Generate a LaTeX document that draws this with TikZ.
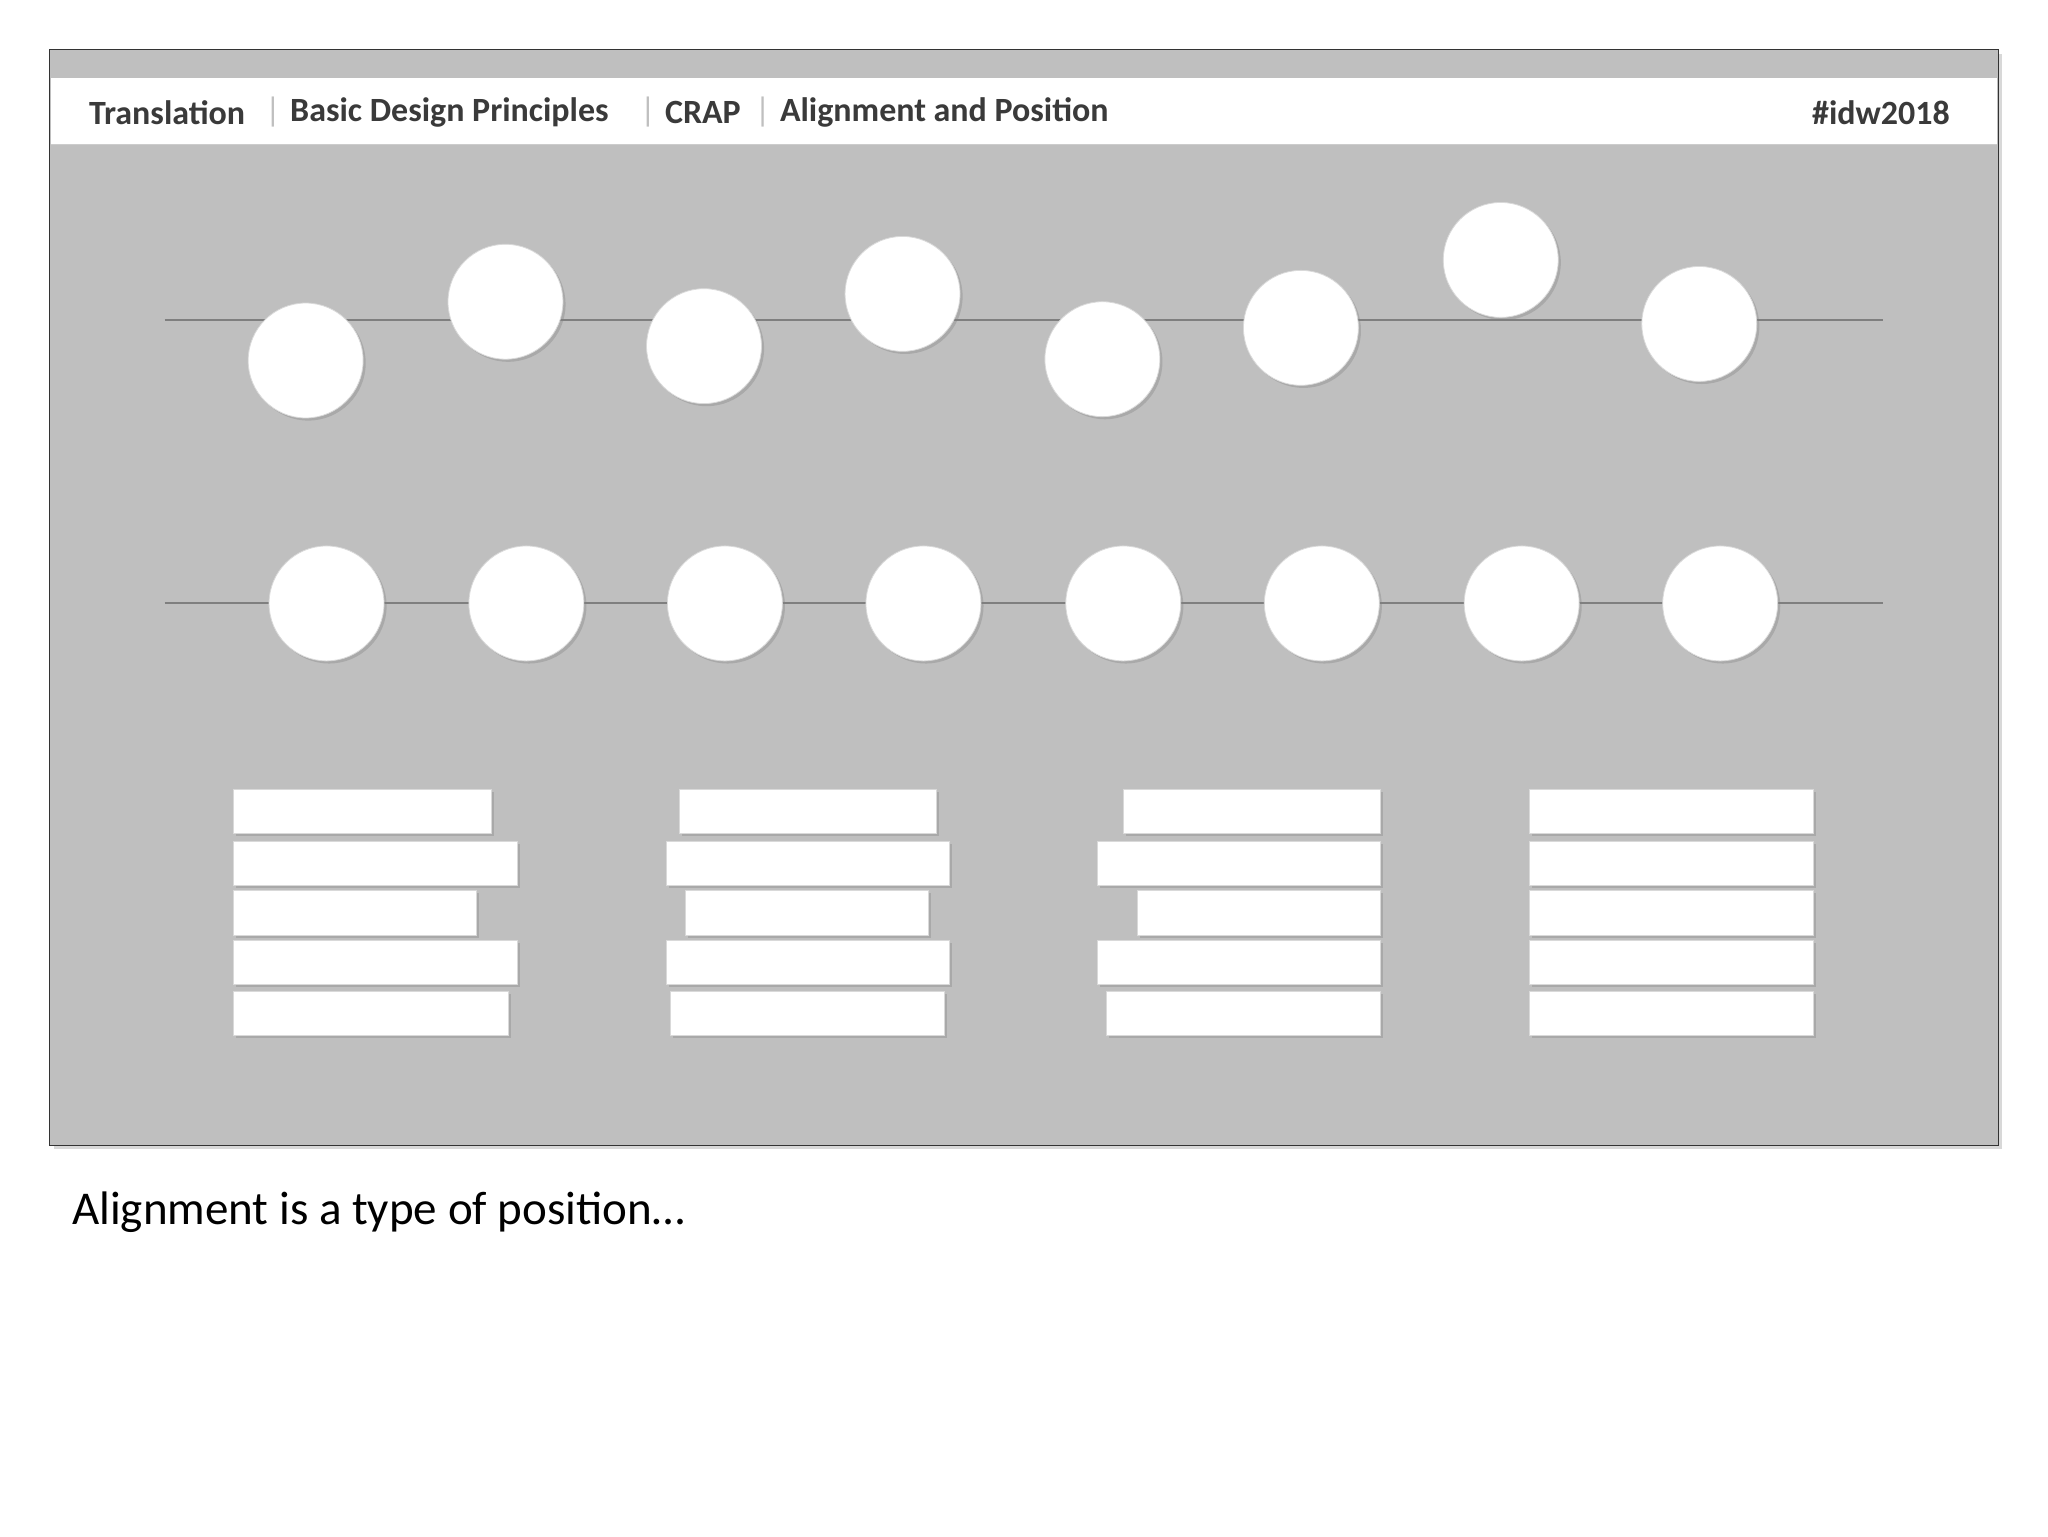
\documentclass[tikz,border=0pt]{standalone}
\usepackage{fontspec}
\setmainfont{Carlito}
\usetikzlibrary{shadows}
\definecolor{slidegray}{HTML}{BFBFBF}
\definecolor{linegray}{HTML}{7F7F7F}
\definecolor{headtext}{HTML}{3A3A3A}
\tikzset{
  dot/.style={circle,fill=white,minimum size=88pt,inner sep=0pt,draw=black!15,line width=0.6pt,drop shadow={shadow xshift=2pt,shadow yshift=-2pt,opacity=0.35}},
  barbox/.style={fill=white,draw=black!15,line width=0.6pt,drop shadow={shadow xshift=2pt,shadow yshift=-2pt,opacity=0.35}},
  hd/.style={font=\fontsize{26pt}{30pt}\selectfont\bfseries,text=headtext,inner sep=0pt,anchor=west},
  sep/.style={font=\fontsize{26pt}{30pt}\selectfont,text=black!25,inner sep=0pt}
}
\begin{document}
\begin{tikzpicture}[x=1pt,y=-1pt]
\useasboundingbox (0,0) rectangle (1568,1176);
\fill[white] (0,0) rectangle (1568,1176);
% slide
\draw[fill=slidegray,draw=black!80,line width=1pt,drop shadow={shadow xshift=3pt,shadow yshift=-3pt,opacity=0.3}] (38,38) rectangle (1530,877);
\fill[white] (39,60) rectangle (1529,110);
\draw[black!20] (39,110.5) -- (1529,110.5);
\node[hd] (t1) at (68,86) {Translation};
\node[sep] (s1) at (209,86) {|};
\node[hd] (t2) at (222,86) {Basic Design Principles};
\node[sep] (s2) at (496,86) {|};
\node[hd] (t3) at (509,86) {CRAP};
\node[sep] (s3) at (584,86) {|};
\node[hd] (t4) at (597,86) {Alignment and Position};
\node[hd,anchor=east] (t5) at (1493,86) {\#idw2018};
% lines
\coordinate (l1a) at (126,245); \coordinate (l1b) at (1442,245);
\coordinate (l2a) at (126,462); \coordinate (l2b) at (1442,462);
\draw[linegray,line width=1.5pt] (l1a) -- (l1b);
\draw[linegray,line width=1.5pt] (l2a) -- (l2b);
% row 1 circles
\foreach \x/\y [count=\i] in {234/276,387/231,539/265,691/225,844/275,996/251,1149/199,1301/248}
  \node[dot] (a\i) at (\x,\y) {};
% row 2 circles
\foreach \x [count=\i] in {250,403,555,707,860,1012,1165,1317}
  \node[dot] (b\i) at (\x,462) {};
% bars
\foreach \y/\l/\r in {604/179/376,644/179/396,682/179/365,720/179/396,759/179/389,
  604/520/717,644/510/727,682/525/711,720/510/727,759/513/723,
  604/860/1057,644/840/1057,682/871/1057,720/840/1057,759/847/1057,
  604/1171/1388,644/1171/1388,682/1171/1388,720/1171/1388,759/1171/1388}
  \draw[barbox] (\l,\y) rectangle (\r,\y+34);
\node[anchor=west,inner sep=0pt,font=\fontsize{36pt}{40pt}\selectfont,text=black] (cap) at (55,928) {Alignment is a type of position…};
\end{tikzpicture}
\end{document}
